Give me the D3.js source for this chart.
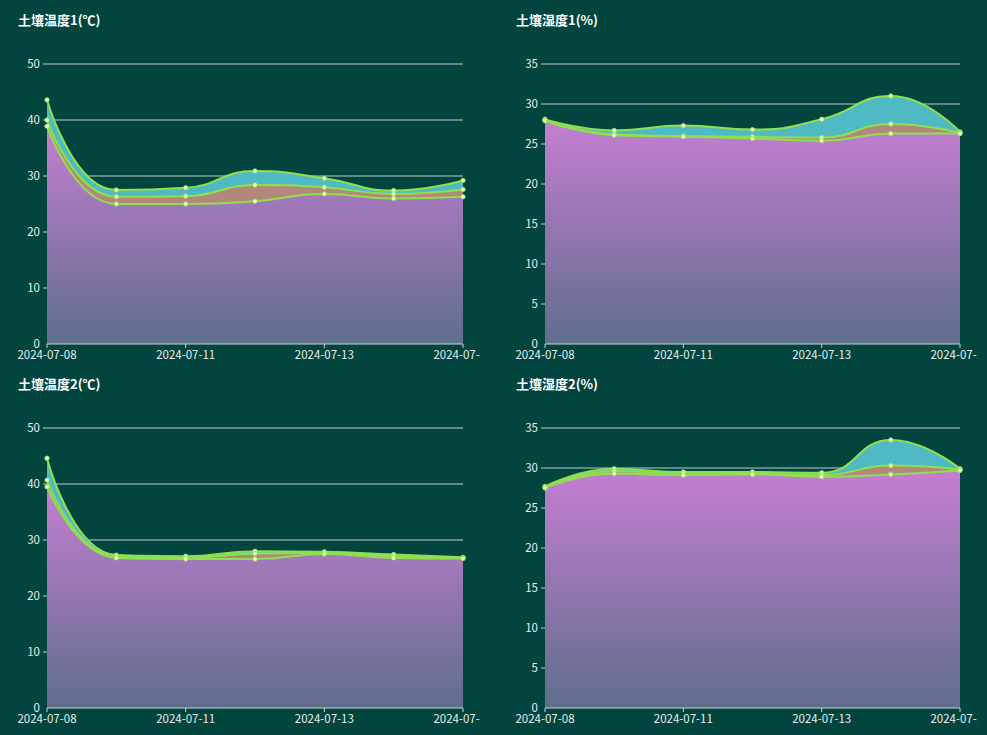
<!DOCTYPE html>
<html>
<head>
<meta charset="utf-8">
<script src="https://cdn.jsdelivr.net/npm/d3@7"></script>
<style>
  html, body { margin: 0; padding: 0; background: #02453f; }
  svg { display: block; font-family: "Noto Sans CJK SC", "Noto Sans", sans-serif; }
</style>
</head>
<body>
<div id="chart"></div>
<script>
// x categories
const dates = ["2024-07-08", "2024-07-10", "2024-07-11", "2024-07-12", "2024-07-13", "2024-07-14", "2024-07-15"];

// 土壤温度1
const temp1Max = [43.6, 27.5, 27.9, 30.9, 29.6, 27.4, 29.2];
const temp1Avg = [40.0, 26.3, 26.4, 28.4, 28.0, 26.8, 27.6];
const temp1Min = [38.9, 25.0, 25.0, 25.5, 26.8, 26.0, 26.3];

// 土壤湿度1
const hum1Max = [28.1, 26.7, 27.3, 26.8, 28.1, 31.0, 26.5];
const hum1Avg = [28.0, 26.2, 26.0, 25.9, 25.8, 27.5, 26.4];
const hum1Min = [27.9, 26.1, 25.9, 25.7, 25.4, 26.3, 26.3];

// 土壤温度2
const temp2Max = [44.6, 27.3, 27.1, 28.0, 27.9, 27.4, 26.9];
const temp2Avg = [40.7, 27.0, 26.8, 27.6, 27.7, 27.1, 26.8];
const temp2Min = [39.5, 26.8, 26.6, 26.6, 27.5, 26.8, 26.7];

// 土壤湿度2
const hum2Max = [27.7, 29.9, 29.5, 29.5, 29.4, 33.5, 29.9];
const hum2Avg = [27.6, 29.6, 29.3, 29.3, 29.1, 30.3, 29.8];
const hum2Min = [27.5, 29.3, 29.1, 29.2, 28.9, 29.2, 29.7];

const titles = ["土壤温度1(℃)", "土壤湿度1(%)", "土壤温度2(℃)", "土壤湿度2(%)"];
const yMax = [50, 35, 50, 35];
const yStep = [10, 5, 10, 5];

const width = 987, height = 735;

// smooth curve in the echarts style: control points kept inside neighbour range
function SmoothCurve(context) { this._context = context; }
SmoothCurve.prototype = {
  areaStart() { this._line = 0; },
  areaEnd() { this._line = NaN; },
  lineStart() { this._pts = []; },
  point(x, y) { this._pts.push([+x, +y]); },
  lineEnd() {
    const c = this._context, pts = this._pts, n = pts.length, s = 0.5;
    if (n) {
      if (this._line) c.lineTo(pts[0][0], pts[0][1]);
      else c.moveTo(pts[0][0], pts[0][1]);
      let cpx0 = pts[0][0], cpy0 = pts[0][1];
      for (let i = 1; i < n; i++) {
        const [x, y] = pts[i];
        const [px, py] = pts[i - 1];
        let cpx1, cpy1, ncx = x, ncy = y;
        if (i === n - 1) {
          cpx1 = x; cpy1 = y;
        } else {
          const [nx, ny] = pts[i + 1];
          let vx = nx - px, vy = ny - py;
          const lp = Math.hypot(x - px, y - py);
          const ln = Math.hypot(nx - x, ny - y);
          const r = ln / (ln + lp);
          ncx = x + vx * s * r;
          ncy = y + vy * s * r;
          ncx = Math.max(Math.min(ncx, Math.max(nx, x)), Math.min(nx, x));
          ncy = Math.max(Math.min(ncy, Math.max(ny, y)), Math.min(ny, y));
          vx = ncx - x; vy = ncy - y;
          cpx1 = x - vx * lp / ln;
          cpy1 = y - vy * lp / ln;
          cpx1 = Math.max(Math.min(cpx1, Math.max(px, x)), Math.min(px, x));
          cpy1 = Math.max(Math.min(cpy1, Math.max(py, y)), Math.min(py, y));
          vx = x - cpx1; vy = y - cpy1;
          ncx = x + vx * ln / lp;
          ncy = y + vy * ln / lp;
        }
        c.bezierCurveTo(cpx0, cpy0, cpx1, cpy1, x, y);
        cpx0 = ncx; cpy0 = ncy;
      }
    }
    if (this._line || (this._line !== 0 && n === 1)) c.closePath();
    this._line = 1 - this._line;
  }
};
const smoothCurve = (context) => new SmoothCurve(context);

const svg = d3.select("#chart")
  .append("svg")
  .attr("width", width)
  .attr("height", height);

const defs = svg.append("defs");

// purple gradient for the lowest area
const grad = defs.append("linearGradient")
  .attr("id", "minGrad")
  .attr("x1", 0).attr("y1", 0).attr("x2", 0).attr("y2", 1);
grad.append("stop").attr("offset", "0%").attr("stop-color", "#c47ed2");
grad.append("stop").attr("offset", "100%").attr("stop-color", "#5f6e8c");

const panels = [
  { ox: 0,   oy: 0,   series: [temp1Max, temp1Avg, temp1Min] },
  { ox: 498, oy: 0,   series: [hum1Max, hum1Avg, hum1Min] },
  { ox: 0,   oy: 364, series: [temp2Max, temp2Avg, temp2Min] },
  { ox: 498, oy: 364, series: [hum2Max, hum2Avg, hum2Min] }
];

const fills = ["#50bac4", "#b3887b", "url(#minGrad)"];
const lineColor = "#8fe04e";

defs.append("clipPath").attr("id", "panelClip")
  .append("rect").attr("x", 0).attr("y", 0).attr("width", 480).attr("height", 372);

panels.forEach((p, i) => {
  const g = svg.append("g").attr("transform", `translate(${p.ox},${p.oy})`);

  const left = 47, right = i % 2 === 0 ? 463 : 462, top = 64, bottom = 344;

  const x = d3.scalePoint().domain(dates).range([left, right]);
  const y = d3.scaleLinear().domain([0, yMax[i]]).range([bottom, top]);

  // title
  g.append("text")
    .attr("x", 18).attr("y", 25)
    .attr("fill", "#ffffff")
    .attr("font-size", 13)
    .attr("font-weight", "bold")
    .text(titles[i]);

  // grid lines
  const ticks = d3.range(0, yMax[i] + 0.001, yStep[i]);
  g.append("g").selectAll("line")
    .data(ticks.filter(t => t > 0))
    .join("line")
    .attr("x1", left - 4).attr("x2", right)
    .attr("y1", d => y(d)).attr("y2", d => y(d))
    .attr("stroke", "#bccac8")
    .attr("stroke-width", 1);

  // y labels
  g.append("g").selectAll("text")
    .data(ticks)
    .join("text")
    .attr("x", left - 7)
    .attr("y", d => y(d))
    .attr("dy", "0.35em")
    .attr("text-anchor", "end")
    .attr("fill", "#e6eeee")
    .attr("font-size", 11.5)
    .text(d => d);

  const area = d3.area()
    .x((d, j) => x(dates[j]))
    .y0(y(0))
    .y1(d => y(d))
    .curve(smoothCurve);

  const line = d3.line()
    .x((d, j) => x(dates[j]))
    .y(d => y(d))
    .curve(smoothCurve);

  p.series.forEach((s, k) => {
    g.append("path")
      .datum(s)
      .attr("d", area)
      .attr("fill", fills[k]);
  });

  p.series.forEach((s) => {
    g.append("path")
      .datum(s)
      .attr("d", line)
      .attr("fill", "none")
      .attr("stroke", lineColor)
      .attr("stroke-width", 2);
  });

  p.series.forEach((s) => {
    g.append("g").selectAll("circle")
      .data(s)
      .join("circle")
      .attr("cx", (d, j) => x(dates[j]))
      .attr("cy", d => y(d))
      .attr("r", 2.2)
      .attr("fill", "#f2ffcc")
      .attr("stroke", lineColor)
      .attr("stroke-width", 0.8);
  });

  // x axis
  const labelled = dates.filter((d, j) => j % 2 === 0);
  const xa = g.append("g").attr("clip-path", "url(#panelClip)");
  xa.append("line")
    .attr("x1", left).attr("x2", right)
    .attr("y1", bottom).attr("y2", bottom)
    .attr("stroke", "#c8d4d2");
  xa.selectAll("line.tick")
    .data(labelled)
    .join("line")
    .attr("class", "tick")
    .attr("x1", d => x(d)).attr("x2", d => x(d))
    .attr("y1", bottom).attr("y2", bottom + 4)
    .attr("stroke", "#c8d4d2");
  xa.selectAll("text")
    .data(labelled)
    .join("text")
    .attr("x", d => x(d))
    .attr("y", bottom + 15)
    .attr("text-anchor", "middle")
    .attr("fill", "#e6eeee")
    .attr("font-size", 11.5)
    .text(d => d);
});
</script>
</body>
</html>
